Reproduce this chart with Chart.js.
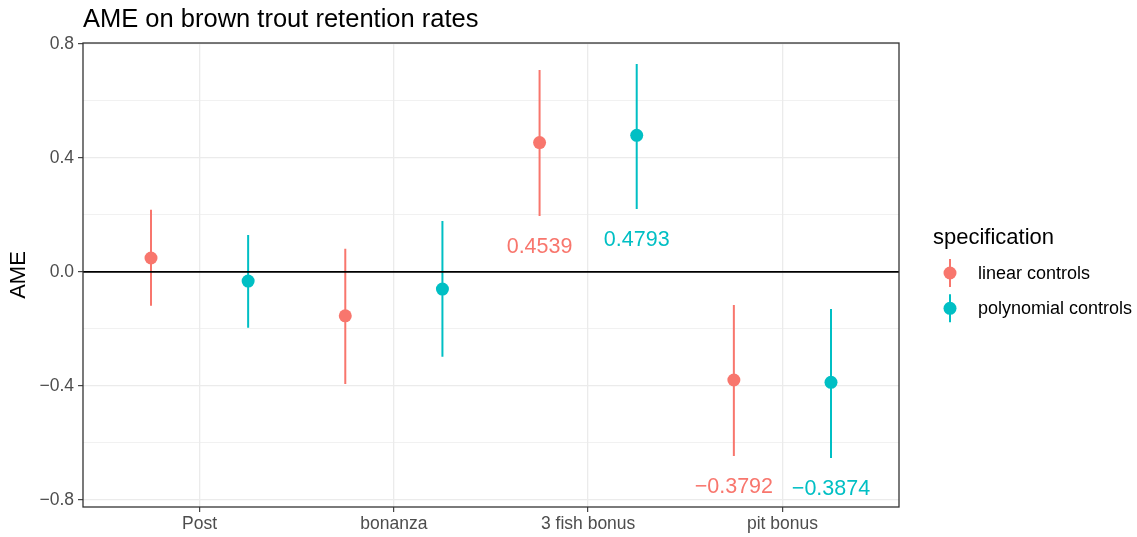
<!DOCTYPE html>
<html><head><meta charset="utf-8">
<script src="https://cdn.jsdelivr.net/npm/chart.js@4/dist/chart.umd.min.js"></script>
<style>html,body{margin:0;padding:0;background:#fff;}#wrap{position:relative;width:1137px;height:537px;}</style>
</head><body><div id="wrap"><canvas id="c" width="1137" height="537"></canvas></div>
<script>
// Average marginal effects with confidence intervals, by incentive type
const categories = ['Post', 'bonanza', '3 fish bonus', 'pit bonus'];
const seriesNames = ['linear controls', 'polynomial controls'];
const seriesColors = ['#F8766D', '#00BFC4'];

const linearAME   = [0.049, -0.154, 0.4539, -0.3792];
const linearLower = [-0.119, -0.393, 0.196, -0.646];
const linearUpper = [0.218, 0.081, 0.709, -0.116];

const polyAME   = [-0.032, -0.060, 0.4793, -0.3874];
const polyLower = [-0.196, -0.298, 0.221, -0.653];
const polyUpper = [0.130, 0.179, 0.730, -0.130];

// categories whose estimates are printed below the interval
const labelledCategories = [2, 3];

const yTickValues = [-0.8, -0.6, -0.4, -0.2, 0, 0.2, 0.4, 0.6, 0.8];
const yMajorTicks = [-0.8, -0.4, 0, 0.4, 0.8];

const FONT = '"Liberation Sans", Arial, Helvetica, sans-serif';
const DODGE = 0.25;
const series = [
  { est: linearAME, lo: linearLower, hi: linearUpper, off: -DODGE },
  { est: polyAME,   lo: polyLower,   hi: polyUpper,   off:  DODGE }
];

const fmt = v => (v < 0 ? '\u2212' : '') + Math.abs(v).toFixed(4);
const fmtTick = v => (v < 0 ? '\u2212' : '') + Math.abs(v).toFixed(1);
const isMajor = v => yMajorTicks.some(m => Math.abs(m - v) < 1e-9);

const datasets = [];
series.forEach((s, k) => {
  const bars = [];
  s.est.forEach((_, i) => {
    bars.push({ x: i + s.off, y: s.lo[i] }, { x: i + s.off, y: s.hi[i] }, { x: i + s.off, y: null });
  });
  datasets.push({
    type: 'line', label: seriesNames[k] + ' CI', data: bars,
    borderColor: seriesColors[k], borderWidth: 2, borderCapStyle: 'butt',
    pointRadius: 0, spanGaps: false, fill: false, order: 3
  });
  datasets.push({
    type: 'scatter', label: seriesNames[k],
    data: s.est.map((v, i) => ({ x: i + s.off, y: v })),
    backgroundColor: seriesColors[k], borderWidth: 0, pointRadius: 6.5, order: 2
  });
});
// reference line at zero
datasets.push({
  type: 'line', label: 'zero', data: [{ x: -0.6, y: 0 }, { x: 3.6, y: 0 }],
  borderColor: '#000', borderWidth: 1.8, pointRadius: 0, order: 1
});

const decorations = {
  id: 'decorations',
  afterDatasetsDraw(chart) {
    const { ctx, scales: { x, y } } = chart;
    ctx.save();
    ctx.font = '21.5px ' + FONT;
    ctx.textAlign = 'center';
    ctx.textBaseline = 'middle';
    series.forEach((s, k) => {
      ctx.fillStyle = seriesColors[k];
      labelledCategories.forEach(i => {
        ctx.fillText(fmt(s.est[i]), x.getPixelForValue(i + s.off), y.getPixelForValue(s.lo[i] - 0.11));
      });
    });
    ctx.restore();
  },
  afterDraw(chart) {
    const { ctx, chartArea: a } = chart;
    ctx.save();
    // panel border
    ctx.strokeStyle = '#333333';
    ctx.lineWidth = 1.3;
    ctx.strokeRect(a.left, a.top, a.right - a.left, a.bottom - a.top);
    // title
    ctx.fillStyle = '#000';
    ctx.font = '25.5px ' + FONT;
    ctx.textAlign = 'left';
    ctx.textBaseline = 'alphabetic';
    ctx.fillText('AME on brown trout retention rates', a.left, 27);
    // legend
    ctx.font = '22px ' + FONT;
    ctx.fillText('specification', 933, 243.5);
    ctx.font = '18px ' + FONT;
    seriesNames.forEach((name, k) => {
      const cy = 273 + k * 35.3, cx = 950;
      ctx.strokeStyle = seriesColors[k];
      ctx.lineWidth = 2;
      ctx.beginPath(); ctx.moveTo(cx, cy - 14); ctx.lineTo(cx, cy + 14); ctx.stroke();
      ctx.fillStyle = seriesColors[k];
      ctx.beginPath(); ctx.arc(cx, cy, 6.5, 0, Math.PI * 2); ctx.fill();
      ctx.fillStyle = '#000';
      ctx.fillText(name, 978, cy + 6);
    });
    ctx.restore();
  }
};

new Chart(document.getElementById('c'), {
  data: { datasets },
  options: {
    responsive: false, animation: false,
    layout: { padding: { left: 0, right: 238, top: 43, bottom: 0 } },
    plugins: { legend: { display: false }, tooltip: { enabled: false }, title: { display: false } },
    scales: {
      x: {
        type: 'linear', min: -0.6, max: 3.6,
        afterBuildTicks: s => { s.ticks = categories.map((_, i) => ({ value: i })); },
        afterFit: s => { s.height = 30; },
        ticks: { autoSkip: false, maxRotation: 0, padding: 2, color: '#4D4D4D',
                 font: { family: FONT, size: 17.5 }, callback: v => categories[v] },
        grid: { color: '#EBEBEB', lineWidth: 1.3, tickColor: '#333333', tickLength: 5, tickWidth: 1.1 },
        border: { display: false }
      },
      y: {
        type: 'linear', min: -0.825, max: 0.8035,
        afterBuildTicks: s => { s.ticks = yTickValues.map(v => ({ value: v })); },
        afterFit: s => { s.width = 83; },
        ticks: { autoSkip: false, padding: 4, color: '#4D4D4D',
                 font: { family: FONT, size: 17.5 }, callback: v => isMajor(v) ? fmtTick(v) : '' },
        grid: {
          color: '#EBEBEB',
          lineWidth: c => isMajor(c.tick.value) ? 1.3 : 0.7,
          tickColor: c => isMajor(c.tick.value) ? '#333333' : 'rgba(0,0,0,0)',
          tickLength: 5, tickWidth: 1.1
        },
        border: { display: false },
        title: { display: true, text: 'AME', color: '#000', font: { family: FONT, size: 22 }, padding: { top: 6, bottom: 0 } }
      }
    }
  },
  plugins: [decorations]
});
</script></body></html>
